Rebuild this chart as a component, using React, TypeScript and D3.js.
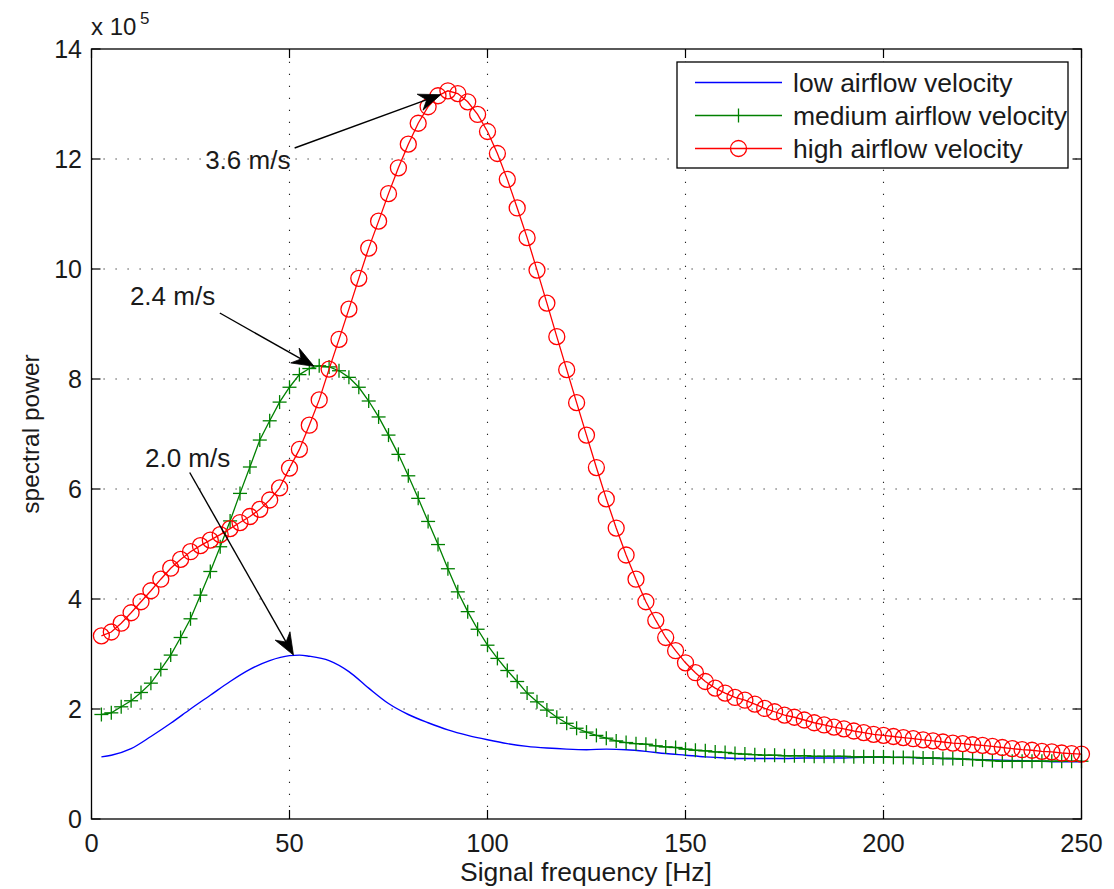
import React from "react";
import * as d3 from "d3";

// Frequencies (Hz) of the sampled spectrum points (medium & high series)
const freqs = [
  2.5, 5, 7.5, 10, 12.5, 15, 17.5, 20, 22.5, 25, 27.5, 30, 32.5, 35, 37.5, 40, 42.5, 45, 47.5, 50,
  52.5, 55, 57.5, 60, 62.5, 65, 67.5, 70, 72.5, 75, 77.5, 80, 82.5, 85, 87.5, 90, 92.5, 95, 97.5, 100,
  102.5, 105, 107.5, 110, 112.5, 115, 117.5, 120, 122.5, 125, 127.5, 130, 132.5, 135, 137.5, 140, 142.5, 145, 147.5, 150,
  152.5, 155, 157.5, 160, 162.5, 165, 167.5, 170, 172.5, 175, 177.5, 180, 182.5, 185, 187.5, 190, 192.5, 195, 197.5, 200,
  202.5, 205, 207.5, 210, 212.5, 215, 217.5, 220, 222.5, 225, 227.5, 230, 232.5, 235, 237.5, 240, 242.5, 245, 247.5, 250,
];

// high airflow velocity (x 1e5)
const highValues = [
  3.33, 3.40, 3.56, 3.75, 3.95, 4.15, 4.36, 4.56, 4.72, 4.86, 4.97, 5.07, 5.17, 5.28, 5.39, 5.50, 5.63, 5.80, 6.02, 6.38,
  6.72, 7.16, 7.62, 8.18, 8.72, 9.27, 9.83, 10.38, 10.87, 11.37, 11.84, 12.27, 12.65, 12.95, 13.15, 13.24, 13.19, 13.04, 12.81, 12.50,
  12.10, 11.63, 11.11, 10.57, 9.98, 9.38, 8.77, 8.17, 7.57, 6.98, 6.39, 5.82, 5.29, 4.80, 4.36, 3.95, 3.61, 3.30, 3.06, 2.84,
  2.66, 2.50, 2.38, 2.29, 2.21, 2.16, 2.09, 2.01, 1.95, 1.89, 1.85, 1.80, 1.75, 1.71, 1.67, 1.64, 1.60, 1.57, 1.54, 1.52,
  1.50, 1.48, 1.46, 1.44, 1.42, 1.40, 1.38, 1.37, 1.35, 1.34, 1.32, 1.30, 1.28, 1.26, 1.25, 1.23, 1.22, 1.20, 1.19, 1.18,
];

// medium airflow velocity (x 1e5)
const mediumValues = [
  1.90, 1.93, 2.04, 2.15, 2.30, 2.47, 2.72, 2.98, 3.30, 3.64, 4.07, 4.50, 4.95, 5.42, 5.92, 6.40, 6.89, 7.24, 7.58, 7.85,
  8.08, 8.19, 8.24, 8.22, 8.15, 8.03, 7.85, 7.60, 7.31, 6.98, 6.63, 6.24, 5.83, 5.41, 4.99, 4.55, 4.13, 3.77, 3.45, 3.16,
  2.92, 2.70, 2.50, 2.29, 2.13, 1.98, 1.85, 1.74, 1.65, 1.58, 1.52, 1.47, 1.42, 1.39, 1.37, 1.36, 1.33, 1.31, 1.30, 1.27,
  1.25, 1.24, 1.22, 1.21, 1.19, 1.18, 1.17, 1.16, 1.16, 1.15, 1.15, 1.15, 1.14, 1.14, 1.14, 1.14, 1.13, 1.13, 1.13, 1.13,
  1.12, 1.12, 1.12, 1.11, 1.11, 1.10, 1.10, 1.09, 1.08, 1.07, 1.06, 1.05, 1.05, 1.05, 1.05, 1.05, 1.05, 1.05, 1.05, 1.05,
];

// low airflow velocity (x 1e5), drawn as a plain line
const lowFreqs = [
  2.5, 5, 10, 15, 20, 25, 30, 35, 40, 45, 50, 52.5, 55, 60, 65, 70, 75, 80, 85, 90, 95, 100, 105, 110, 115, 120,
  125, 130, 135, 140, 145, 150, 155, 160, 165, 170, 175, 180, 185, 190, 195, 200, 205, 210, 215, 220, 225, 230, 235, 240, 245, 250,
];
const lowValues = [
  1.13, 1.16, 1.28, 1.50, 1.74, 2.00, 2.25, 2.50, 2.72, 2.88, 2.97, 2.98, 2.96, 2.88, 2.68, 2.38, 2.10, 1.90, 1.75, 1.62, 1.52, 1.44, 1.37, 1.32, 1.29, 1.27,
  1.26, 1.27, 1.26, 1.23, 1.19, 1.16, 1.13, 1.11, 1.10, 1.10, 1.10, 1.11, 1.11, 1.11, 1.12, 1.12, 1.12, 1.11, 1.10, 1.09, 1.08, 1.07, 1.06, 1.05, 1.04, 1.04,
];

const xTicks = [0, 50, 100, 150, 200, 250];
const yTicks = [0, 2, 4, 6, 8, 10, 12, 14];

const legendLabels = ["low airflow velocity", "medium airflow velocity", "high airflow velocity"];
const seriesColors = ["#0000ff", "#008000", "#ff0000"];

// annotations: label, data point the arrow points at (freq, value)
const annotLabels = ["3.6 m/s", "2.4 m/s", "2.0 m/s"];
const annotTargets: [number, number][] = [[88.2, 13.17], [56.2, 8.23], [51.0, 2.98]];
const annotTextPos: [number, number][] = [[28.7, 11.82], [9.7, 9.35], [13.5, 6.4]];
const annotTails: [number, number][] = [[51.3, 12.2], [32.4, 9.2], [24.8, 6.3]];

const W = 1114;
const H = 889;
const FONT = "'Liberation Sans', Arial, Helvetica, sans-serif";
const TXT = "#1a1a1a";

export default function App() {
  const x = d3.scaleLinear().domain([0, 250]).range([91.5, 1081.5]);
  const y = d3.scaleLinear().domain([0, 14]).range([819, 49]);
  const [x0, x1] = x.range();
  const [y0, y1] = y.range();

  const lineGen = d3
    .line<[number, number]>()
    .x((d) => x(d[0]))
    .y((d) => y(d[1]));
  const smoothGen = d3
    .line<[number, number]>()
    .x((d) => x(d[0]))
    .y((d) => y(d[1]))
    .curve(d3.curveMonotoneX);

  const lowPts: [number, number][] = lowFreqs.map((f, i) => [f, lowValues[i]]);
  const medPts: [number, number][] = freqs.map((f, i) => [f, mediumValues[i]]);
  const highPts: [number, number][] = freqs.map((f, i) => [f, highValues[i]]);

  const tickLen = 9;
  const plus = 7;

  const arrowHead = (tx: number, ty: number, sx: number, sy: number) => {
    const ang = Math.atan2(ty - sy, tx - sx);
    const L = 22;
    const hw = 8.5;
    const notch = 15;
    const c = Math.cos(ang);
    const s = Math.sin(ang);
    const bx = tx - L * c;
    const by = ty - L * s;
    const p1 = [bx - hw * -s, by - hw * c];
    const p2 = [bx + hw * -s, by + hw * c];
    const n = [tx - notch * c, ty - notch * s];
    return `M${tx},${ty}L${p1[0]},${p1[1]}L${n[0]},${n[1]}L${p2[0]},${p2[1]}Z`;
  };

  // legend geometry
  const lgX = 677;
  const lgY = 62;
  const lgW = 391;
  const lgH = 106;
  const rowY = [82.5, 115.5, 148.5];

  return (
    <svg
      width={W}
      height={H}
      style={{ position: "absolute", left: 0, top: 0, background: "#fff" }}
      fontFamily={FONT}
    >
      <rect x={0} y={0} width={W} height={H} fill="#fff" />
      {/* grid */}
      <g stroke="#222" strokeWidth={1.1} strokeDasharray="1.2 10.8">
        {xTicks.slice(1, -1).map((t) => (
          <line key={"gx" + t} x1={x(t)} x2={x(t)} y1={y0} y2={y1} />
        ))}
        {yTicks.slice(1, -1).map((t) => (
          <line key={"gy" + t} x1={x0} x2={x1} y1={y(t)} y2={y(t)} />
        ))}
      </g>
      {/* ticks */}
      <g stroke="#000" strokeWidth={1.2}>
        {xTicks.map((t) => (
          <g key={"tx" + t}>
            <line x1={x(t)} x2={x(t)} y1={y0} y2={y0 - tickLen} />
            <line x1={x(t)} x2={x(t)} y1={y1} y2={y1 + tickLen} />
          </g>
        ))}
        {yTicks.map((t) => (
          <g key={"ty" + t}>
            <line x1={x0} x2={x0 + tickLen} y1={y(t)} y2={y(t)} />
            <line x1={x1} x2={x1 - tickLen} y1={y(t)} y2={y(t)} />
          </g>
        ))}
      </g>

      {/* series */}
      <path d={smoothGen(lowPts) || ""} fill="none" stroke={seriesColors[0]} strokeWidth={1.4} />
      <path d={lineGen(medPts) || ""} fill="none" stroke={seriesColors[1]} strokeWidth={1.3} />
      <g stroke={seriesColors[1]} strokeWidth={1.3}>
        {medPts.map((p, i) => (
          <g key={"m" + i}>
            <line x1={x(p[0]) - plus} x2={x(p[0]) + plus} y1={y(p[1])} y2={y(p[1])} />
            <line x1={x(p[0])} x2={x(p[0])} y1={y(p[1]) - plus} y2={y(p[1]) + plus} />
          </g>
        ))}
      </g>
      <path d={lineGen(highPts) || ""} fill="none" stroke={seriesColors[2]} strokeWidth={1.3} />
      <g stroke={seriesColors[2]} strokeWidth={1.3} fill="none">
        {highPts.map((p, i) => (
          <circle key={"h" + i} cx={x(p[0])} cy={y(p[1])} r={8} />
        ))}
      </g>

      {/* frame */}
      <rect x={x0} y={y1} width={x1 - x0} height={y0 - y1} fill="none" stroke="#000" strokeWidth={1.3} />

      {/* annotations */}
      {annotLabels.map((lab, i) => {
        const [tf, tv] = annotTargets[i];
        const [sf, sv] = annotTails[i];
        const tx = x(tf);
        const ty = y(tv);
        const sx = x(sf);
        const sy = y(sv);
        const ang = Math.atan2(ty - sy, tx - sx);
        const ex = tx - 14 * Math.cos(ang);
        const ey = ty - 14 * Math.sin(ang);
        return (
          <g key={"a" + i}>
            <line x1={sx} y1={sy} x2={ex} y2={ey} stroke="#000" strokeWidth={1.4} />
            <path d={arrowHead(tx, ty, sx, sy)} fill="#000" stroke="#000" strokeWidth={0.8} />
            <text
              x={x(annotTextPos[i][0])}
              y={y(annotTextPos[i][1])}
              fontSize={26}
              fill={TXT}
            >
              {lab}
            </text>
          </g>
        );
      })}

      {/* legend */}
      <rect x={lgX} y={lgY} width={lgW} height={lgH} fill="#fff" stroke="#000" strokeWidth={1.3} />
      {legendLabels.map((lab, i) => (
        <g key={"lg" + i}>
          <line x1={695} x2={782} y1={rowY[i]} y2={rowY[i]} stroke={seriesColors[i]} strokeWidth={1.3} />
          {i === 1 && (
            <line x1={738.5} x2={738.5} y1={rowY[i] - plus} y2={rowY[i] + plus} stroke={seriesColors[i]} strokeWidth={1.3} />
          )}
          {i === 2 && <circle cx={738.5} cy={rowY[i]} r={8} fill="none" stroke={seriesColors[i]} strokeWidth={1.3} />}
          <text x={793} y={rowY[i] + 9} fontSize={26.5} fill={TXT}>
            {lab}
          </text>
        </g>
      ))}

      {/* tick labels */}
      {xTicks.map((t) => (
        <text key={"xl" + t} x={x(t)} y={852} textAnchor="middle" fontSize={25.5} fill={TXT}>
          {t}
        </text>
      ))}
      {yTicks.map((t) => (
        <text key={"yl" + t} x={82} y={y(t) + 9} textAnchor="end" fontSize={25} fill={TXT}>
          {t}
        </text>
      ))}
      {/* exponent */}
      <text x={91} y={35} fontSize={24} fill={TXT}>
        x 10
      </text>
      <text x={140} y={24} fontSize={17} fill={TXT}>
        5
      </text>

      {/* axis labels */}
      <text x={586} y={881} textAnchor="middle" fontSize={26.5} fill={TXT}>
        Signal frequency [Hz]
      </text>
      <text
        transform={`translate(39,434) rotate(-90)`}
        textAnchor="middle"
        fontSize={24.5}
        fill={TXT}
      >
        spectral power
      </text>
    </svg>
  );
}
